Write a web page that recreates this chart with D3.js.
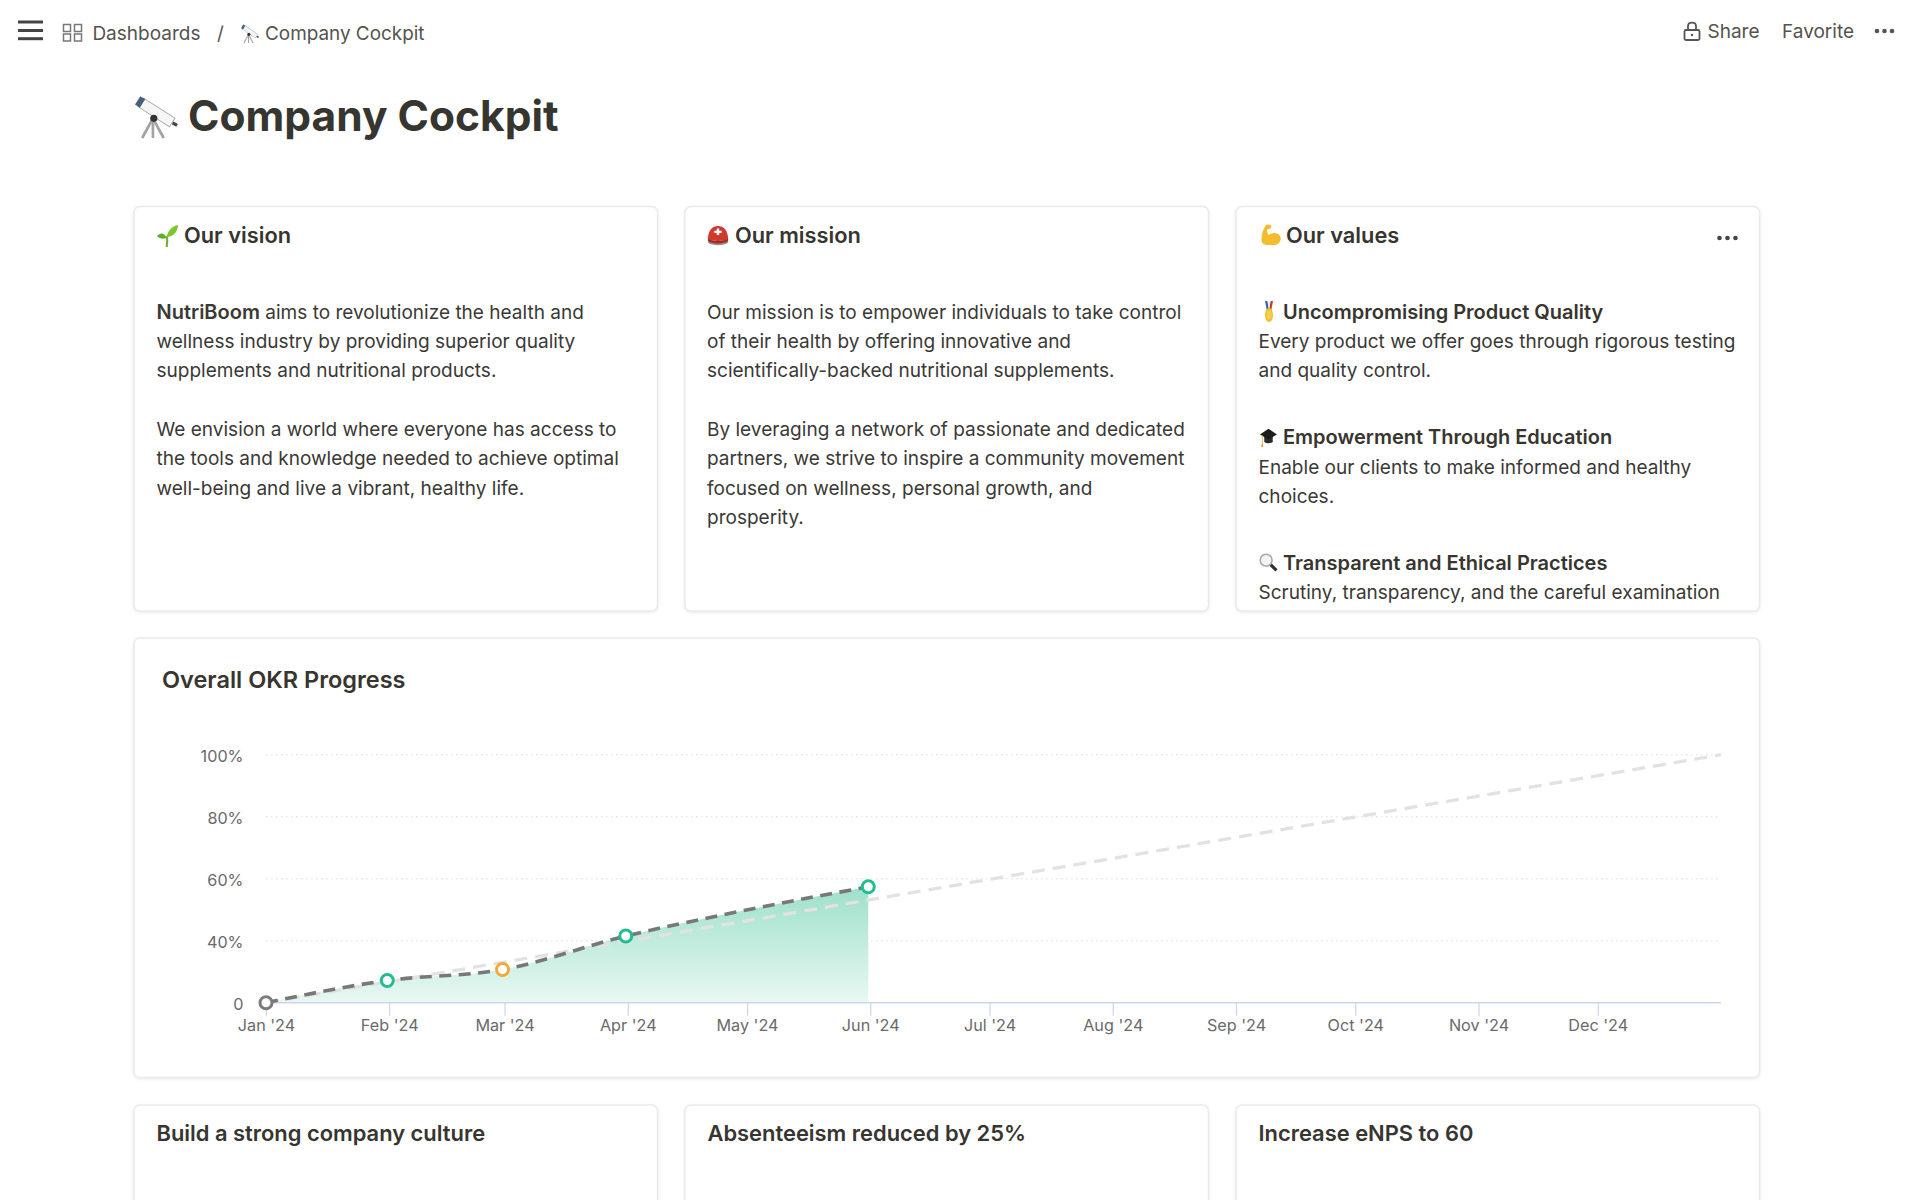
<!DOCTYPE html>
<html>
<head>
<meta charset="utf-8">
<title>Company Cockpit</title>
<script src="https://cdn.jsdelivr.net/npm/d3@7/dist/d3.min.js"></script>
<style>
  html, body { margin: 0; padding: 0; background: #fff; overflow: hidden; }
  svg { display: block; font-family: Inter, "Noto Sans", sans-serif; }
  .card { fill: #fff; stroke: #ebebea; stroke-width: 1.5; filter: drop-shadow(0 1.5px 1.5px rgba(0,0,0,.09)); }
  .axis path { display: none; }
  .axis text { font-family: Inter, sans-serif; font-size: 16.2px; fill: #6a6a6a; }
</style>
</head>
<body>
<div id="page"></div>
<script>
// chart data
var monthTicks = ["2024-01-01T00:00", "2024-02-01T00:00", "2024-03-01T00:00", "2024-04-01T00:00", "2024-05-01T00:00", "2024-06-01T00:00",
                  "2024-07-01T00:00", "2024-08-01T00:00", "2024-09-01T00:00", "2024-10-01T00:00", "2024-11-01T00:00", "2024-12-01T00:00"];
var monthLabels = ["Jan '24", "Feb '24", "Mar '24", "Apr '24", "May '24", "Jun '24",
                   "Jul '24", "Aug '24", "Sep '24", "Oct '24", "Nov '24", "Dec '24"];
var percentTicks = [0, 40, 60, 80, 100];
var percentLabels = ["0", "40%", "60%", "80%", "100%"];

var actualDates = ["2024-01-01T00:00", "2024-01-31T12:00", "2024-02-29T12:00", "2024-03-31T12:00", "2024-04-30T12:00", "2024-05-31T12:00"];
var actualValues = [0, 14.3, 21.4, 41.5, 49.8, 57.4];
var actualStatus = ["start", "done", "late", "done", "", "done"];

var targetDates = ["2024-01-01T00:00", "2025-01-01T00:00"];
var targetValues = [0, 100];

var statusColors = { start: "#7b7b7b", done: "#20bd93", late: "#f1a93a" };

// card texts
var visionLines = [
  [["NutriBoom", 1], [" aims to revolutionize the health and", 0]],
  [["wellness industry by providing superior quality", 0]],
  [["supplements and nutritional products.", 0]],
  [],
  [["We envision a world where everyone has access to", 0]],
  [["the tools and knowledge needed to achieve optimal", 0]],
  [["well-being and live a vibrant, healthy life.", 0]]
];
var missionLines = [
  [["Our mission is to empower individuals to take control", 0]],
  [["of their health by offering innovative and", 0]],
  [["scientifically-backed nutritional supplements.", 0]],
  [],
  [["By leveraging a network of passionate and dedicated", 0]],
  [["partners, we strive to inspire a community movement", 0]],
  [["focused on wellness, personal growth, and", 0]],
  [["prosperity.", 0]]
];
var valuesHeads = ["Uncompromising Product Quality", "Empowerment Through Education", "Transparent and Ethical Practices"];
var valuesBodies = [
  ["Every product we offer goes through rigorous testing", "and quality control."],
  ["Enable our clients to make informed and healthy", "choices."],
  ["Scrutiny, transparency, and the careful examination"]
];
var bottomTitles = ["Build a strong company culture", "Absenteeism reduced by 25%", "Increase eNPS to 60"];

var ink = "#37352f";
var bodyInk = "#3a3935";
var greyInk = "#55534e";

var svg = d3.select("#page").append("svg").attr("width", 1920).attr("height", 1200);

function label(x, y, str, size, weight, color) {
  return svg.append("text").attr("x", x).attr("y", y)
    .attr("font-size", size).attr("font-weight", weight).attr("fill", color).text(str);
}

// small pictures standing in for the emoji, drawn in a 24x24 box
var icons = {
  telescope: function(g) {
    [[10, 13, 4, 24], [10, 13, 10, 24], [10, 13, 16, 24]].forEach(function(l) {
      g.append("line").attr("x1", l[0]).attr("y1", l[1]).attr("x2", l[2]).attr("y2", l[3])
        .attr("stroke", "#a3a3a3").attr("stroke-width", 1.5);
    });
    g.append("line").attr("x1", 3).attr("y1", 4).attr("x2", 21).attr("y2", 15.5)
      .attr("stroke", "#a8a8a8").attr("stroke-width", 6.2);
    g.append("line").attr("x1", 3.5).attr("y1", 4.3).attr("x2", 20.6).attr("y2", 15.2)
      .attr("stroke", "#f6f6f6").attr("stroke-width", 5.2);
    g.append("line").attr("x1", 1.5).attr("y1", 3).attr("x2", 4.2).attr("y2", 4.7)
      .attr("stroke", "#46627a").attr("stroke-width", 5.6);
    g.append("line").attr("x1", 21).attr("y1", 15.5).attr("x2", 23.5).attr("y2", 17)
      .attr("stroke", "#444").attr("stroke-width", 1.8);
    g.append("circle").attr("cx", 10.5).attr("cy", 13).attr("r", 2).attr("fill", "#333");
  },
  seedling: function(g) {
    g.append("path").attr("d", "M11 24C12 18 12 15 11 12").attr("fill", "none")
      .attr("stroke", "#6ab42c").attr("stroke-width", 2.4);
    g.append("path").attr("d", "M11 13C13 5 18 1 24 0C24 7 19 13 11 13Z").attr("fill", "#7cc62f");
    g.append("path").attr("d", "M11 14C8 8 4 8 0 12C3 15 7 16 11 14Z").attr("fill", "#5fae28");
  },
  helmet: function(g) {
    g.append("path").attr("d", "M1 17C5 21 19 21 23 17L23 20C19 24 5 24 1 20Z").attr("fill", "#8f8f8f");
    g.append("path").attr("d", "M1 16C5 19 19 19 23 16C23 6 18 1 12 1C6 1 1 6 1 16Z").attr("fill", "#cf3a2c");
    g.append("path").attr("d", "M1 15C5 19 19 19 23 15L23 18C19 22 5 22 1 18Z").attr("fill", "#a62a20");
    g.append("path").attr("d", "M10.7 4H13.3V6.5H16V9H13.3V11.5H10.7V9H8V6.5H10.7Z").attr("fill", "#fff");
  },
  arm: function(g) {
    g.append("path").attr("d", "M7 1C10 0 13 1 13 3C12 6 9 6 8 6C8 9 9 11 10 12C14 9 20 9 23 13C25 18 22 23 15 23C8 23 3 23 2 19C1 13 3 6 7 1Z")
      .attr("fill", "#f4bd2c");
  },
  medal: function(g) {
    g.append("path").attr("d", "M4 0L9 0L12 10L8 12Z").attr("fill", "#3c5fb0");
    g.append("path").attr("d", "M20 0L15 0L12 10L16 12Z").attr("fill", "#c23a3a");
    g.append("path").attr("d", "M9 0L15 0L12 10Z").attr("fill", "#eee");
    g.append("circle").attr("cx", 12).attr("cy", 16).attr("r", 8).attr("fill", "#eec02e");
    g.append("circle").attr("cx", 12).attr("cy", 16).attr("r", 5).attr("fill", "#f5d04a");
  },
  cap: function(g) {
    g.append("path").attr("d", "M6 11L18 11L18 18C15 20 9 20 6 18Z").attr("fill", "#2b2b2b");
    g.append("path").attr("d", "M12 2L24 9L12 15L0 9Z").attr("fill", "#1d1d1d");
    g.append("path").attr("d", "M3 10L3 19L1.5 24L4.5 24L4 19L4 10Z").attr("fill", "#e3a230");
  },
  magnifier: function(g) {
    g.append("line").attr("x1", 14).attr("y1", 14).attr("x2", 22).attr("y2", 22)
      .attr("stroke", "#2f2f2f").attr("stroke-width", 4);
    g.append("circle").attr("cx", 9).attr("cy", 9).attr("r", 7.5).attr("fill", "#f1f5f7")
      .attr("stroke", "#a9a9a9").attr("stroke-width", 2);
  }
};

function addIcon(name, x, y, w, h) {
  var g = svg.append("g").attr("transform", "translate(" + x + "," + y + ") scale(" + w / 24 + "," + h / 24 + ")");
  icons[name](g);
}

// ---- top bar ----
[22, 30.5, 38.7].forEach(function(y) {
  svg.append("line").attr("x1", 18).attr("x2", 43).attr("y1", y).attr("y2", y)
    .attr("stroke", "#444").attr("stroke-width", 3);
});
[[63.5, 24.5], [74.5, 24.5], [63.5, 34], [74.5, 34]].forEach(function(p) {
  svg.append("rect").attr("x", p[0]).attr("y", p[1]).attr("width", 7).attr("height", 7)
    .attr("fill", "none").attr("stroke", "#777").attr("stroke-width", 1.5);
});
label(92.4, 40, "Dashboards", 19, 400, greyInk);
label(217, 40, "/", 19, 400, greyInk);
addIcon("telescope", 241, 24, 18, 19);
label(265, 40, "Company Cockpit", 18.9, 400, greyInk);

svg.append("rect").attr("x", 1684.5).attr("y", 30).attr("width", 15).attr("height", 10).attr("rx", 1.5)
  .attr("fill", "none").attr("stroke", "#555").attr("stroke-width", 1.8);
svg.append("path").attr("d", "M1688 30V26C1688 21.5 1696 21.5 1696 26V30")
  .attr("fill", "none").attr("stroke", "#555").attr("stroke-width", 1.8);
svg.append("circle").attr("cx", 1692).attr("cy", 35).attr("r", 1.2).attr("fill", "#555");
label(1707.5, 38.3, "Share", 19, 400, greyInk);
label(1782, 38.3, "Favorite", 19, 400, greyInk);
[1877, 1884.5, 1892].forEach(function(x) {
  svg.append("circle").attr("cx", x).attr("cy", 31).attr("r", 2.3).attr("fill", "#555");
});

// ---- page title ----
addIcon("telescope", 135, 95, 43, 43);
label(188, 131, "Company Cockpit", 42.5, 700, ink);

// ---- cards ----
var cardLeft = [134, 685, 1236];
var cardWidth = 523.5;
function card(x, y, w, h) {
  svg.append("rect").attr("class", "card").attr("x", x).attr("y", y).attr("width", w).attr("height", h).attr("rx", 6);
}
cardLeft.forEach(function(x) { card(x, 206.5, cardWidth, 404.5); });
card(134, 638, 1625.5, 439.5);
cardLeft.forEach(function(x) { card(x, 1105, cardWidth, 140); });

addIcon("seedling", 157, 225, 21, 22);
addIcon("helmet", 707, 225, 22, 21);
addIcon("arm", 1260, 224, 21, 22);
label(184, 243.3, "Our vision", 21.8, 600, ink);
label(735, 243.3, "Our mission", 21.8, 600, ink);
label(1286, 243.3, "Our values", 21.8, 600, ink);
[1719.5, 1727.5, 1735.5].forEach(function(x) {
  svg.append("circle").attr("cx", x).attr("cy", 238).attr("r", 2.3).attr("fill", "#444");
});

var lineHeight = 29.35;
var bodySize = 19.05;
var boldSize = 20;
var firstLine = 318.6;
function paragraph(x, lines) {
  lines.forEach(function(runs, i) {
    var t = svg.append("text").attr("x", x).attr("y", firstLine + i * lineHeight)
      .attr("font-size", bodySize).attr("fill", bodyInk);
    runs.forEach(function(r) {
      t.append("tspan").attr("font-weight", r[1] ? 600 : 400).attr("font-size", r[1] ? boldSize : bodySize).text(r[0]);
    });
  });
}
paragraph(156.5, visionLines);
paragraph(707, missionLines);

var valueIcons = [["medal", 1263, 301, 12, 21], ["cap", 1260, 427, 17, 20], ["magnifier", 1259, 553, 19, 19]];
var valueHeadY = [318.6, 444.3, 570];
valuesHeads.forEach(function(head, i) {
  var ic = valueIcons[i];
  addIcon(ic[0], ic[1], ic[2], ic[3], ic[4]);
  label(1283, valueHeadY[i], head, boldSize, 600, ink);
  valuesBodies[i].forEach(function(str, j) {
    label(1258.5, valueHeadY[i] + (j + 1) * lineHeight, str, bodySize, 400, bodyInk);
  });
});

label(162, 688, "Overall OKR Progress", 23.5, 600, ink);
bottomTitles.forEach(function(str, i) {
  label(cardLeft[i] + 22.5, 1141, str, 21.9, 600, ink);
});

// ---- chart ----
var plot = { left: 266, right: 1721, top: 754.7, bottom: 1002.7 };
var x = d3.scaleTime()
  .domain([new Date(targetDates[0]), new Date(targetDates[1])])
  .range([plot.left, plot.right]);
// the labels 0, 40, 60, 80, 100 sit evenly spaced on this axis, so the scale is piecewise
var y = d3.scaleLinear()
  .domain(percentTicks)
  .range(percentTicks.map(function(d, i) {
    return plot.bottom + (plot.top - plot.bottom) * i / (percentTicks.length - 1);
  }));

var actual = actualDates.map(function(d, i) {
  return { date: new Date(d), value: actualValues[i], status: actualStatus[i] };
});
var target = targetDates.map(function(d, i) {
  return { date: new Date(d), value: targetValues[i] };
});

var chart = svg.append("g");

var defs = svg.append("defs");
var grad = defs.append("linearGradient").attr("id", "okrFill").attr("x1", 0).attr("y1", 0).attr("x2", 0).attr("y2", 1);
grad.append("stop").attr("offset", "0%").attr("stop-color", "#9de0ca");
grad.append("stop").attr("offset", "100%").attr("stop-color", "#e9f8f3");

// gridlines
chart.append("g").selectAll("line")
  .data(percentTicks.slice(1))
  .join("line")
  .attr("x1", plot.left).attr("x2", plot.right)
  .attr("y1", function(d) { return y(d); }).attr("y2", function(d) { return y(d); })
  .attr("stroke", "#e7e7e7").attr("stroke-width", 1.5).attr("stroke-dasharray", "1.5 3.5");

// area under the actual line
var curve = d3.curveMonotoneX;
chart.append("path").datum(actual)
  .attr("fill", "url(#okrFill)")
  .attr("d", d3.area().curve(curve)
    .x(function(d) { return x(d.date); })
    .y0(plot.bottom)
    .y1(function(d) { return y(d.value); }));

// x axis
var xAxis = chart.append("g").attr("class", "axis")
  .attr("transform", "translate(0," + plot.bottom + ")")
  .call(d3.axisBottom(x)
    .tickValues(monthTicks.map(function(d) { return new Date(d); }))
    .tickSize(13)
    .tickPadding(1)
    .tickFormat(function(d, i) { return monthLabels[i]; }));
xAxis.selectAll("line").attr("stroke", "#cdd5ee").attr("stroke-width", 1.2);
xAxis.selectAll("text").attr("dy", "0.9em");
chart.append("line")
  .attr("x1", plot.left).attr("x2", plot.right)
  .attr("y1", plot.bottom).attr("y2", plot.bottom)
  .attr("stroke", "#cdd5ee").attr("stroke-width", 1.5);

// y axis
var yAxis = chart.append("g").attr("class", "axis")
  .attr("transform", "translate(" + (plot.left - 22.5) + ",0)")
  .call(d3.axisLeft(y)
    .tickValues(percentTicks)
    .tickSize(0)
    .tickPadding(0)
    .tickFormat(function(d, i) { return percentLabels[i]; }));
yAxis.selectAll("text").attr("dy", "0.4em");

// target and actual lines
chart.append("path").datum(target)
  .attr("fill", "none").attr("stroke", "#e2e2e2").attr("stroke-width", 3.3)
  .attr("stroke-dasharray", "13 8")
  .attr("d", d3.line().x(function(d) { return x(d.date); }).y(function(d) { return y(d.value); }));

chart.append("path").datum(actual)
  .attr("fill", "none").attr("stroke", "#787878").attr("stroke-width", 3.6)
  .attr("stroke-dasharray", "12 7.5")
  .attr("d", d3.line().curve(curve).x(function(d) { return x(d.date); }).y(function(d) { return y(d.value); }));

// status markers
chart.append("g").selectAll("circle")
  .data(actual.filter(function(d) { return d.status; }))
  .join("circle")
  .attr("cx", function(d) { return x(d.date); })
  .attr("cy", function(d) { return y(d.value); })
  .attr("r", 6)
  .attr("fill", "#fff")
  .attr("stroke", function(d) { return statusColors[d.status]; })
  .attr("stroke-width", 3);
</script>
</body>
</html>
